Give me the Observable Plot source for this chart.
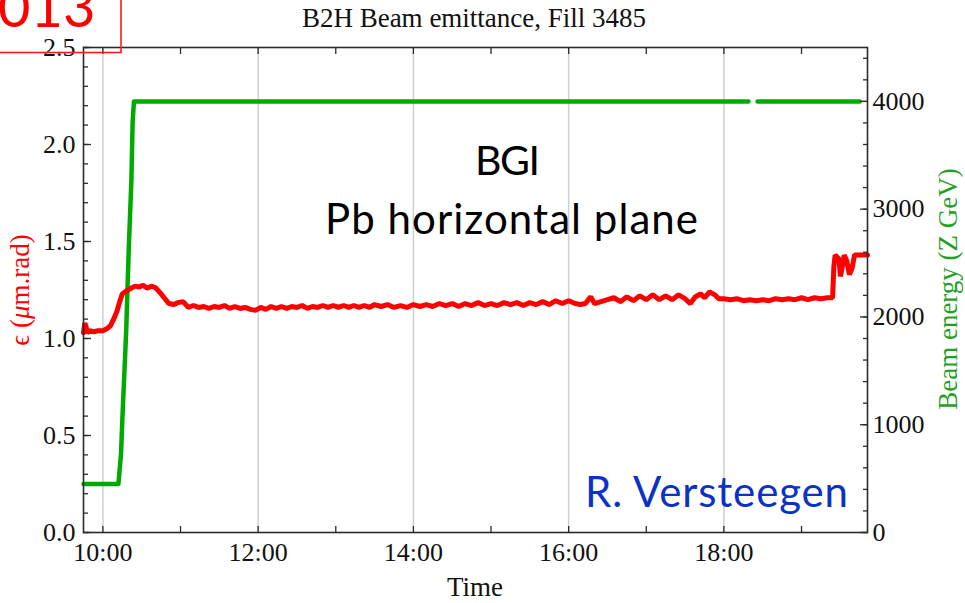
<!DOCTYPE html>
<html><head><meta charset="utf-8">
<script src="https://cdn.jsdelivr.net/npm/d3@7"></script>
<script src="https://cdn.jsdelivr.net/npm/@observablehq/plot@0.6"></script>
<style>
html,body{margin:0;padding:0;background:#fff;}
#chart{width:965px;height:603px;overflow:hidden;position:relative;}
</style></head><body><div id="chart"></div>
<script>
// ---- data ----
const emitTime = ["09:45","09:46","09:47","09:48","09:50","09:53","09:56","10:00","10:03","10:06","10:09","10:11","10:13","10:15","10:18","10:22","10:25","10:28","10:31","10:34","10:38","10:41","10:45","10:48","10:51","10:55","10:58","11:02","11:06","11:10","11:14","11:18","11:22","11:26","11:30","11:34","11:38","11:42","11:46","11:50","11:54","11:58","12:02","12:06","12:10","12:14","12:18","12:22","12:26","12:30","12:34","12:38","12:42","12:46","12:50","12:54","12:58","13:02","13:06","13:10","13:14","13:18","13:22","13:26","13:30","13:35","13:40","13:45","13:50","13:55","14:00","14:05","14:10","14:15","14:20","14:25","14:30","14:35","14:40","14:45","14:50","14:55","15:00","15:05","15:10","15:15","15:20","15:25","15:30","15:35","15:40","15:45","15:50","15:55","16:00","16:05","16:09","16:13","16:17","16:20","16:25","16:30","16:35","16:40","16:45","16:50","16:55","17:00","17:05","17:10","17:15","17:20","17:25","17:30","17:34","17:38","17:42","17:45","17:49","17:53","17:56","18:00","18:05","18:10","18:15","18:20","18:25","18:30","18:35","18:40","18:45","18:50","18:55","19:00","19:05","19:10","19:15","19:20","19:24","19:25","19:26","19:29","19:30","19:31","19:33","19:35","19:37","19:39","19:41","19:51"];
const emitValue = [1.03,1.08,1.06,1.03,1.04,1.035,1.04,1.04,1.05,1.067,1.11,1.144,1.19,1.23,1.245,1.26,1.27,1.265,1.275,1.26,1.27,1.26,1.23,1.205,1.18,1.175,1.185,1.19,1.16,1.17,1.16,1.165,1.155,1.165,1.16,1.17,1.155,1.165,1.155,1.16,1.15,1.145,1.16,1.15,1.165,1.155,1.165,1.155,1.165,1.16,1.17,1.155,1.165,1.16,1.17,1.16,1.17,1.16,1.17,1.16,1.17,1.16,1.17,1.16,1.175,1.165,1.175,1.16,1.17,1.16,1.175,1.165,1.175,1.165,1.18,1.17,1.18,1.165,1.18,1.17,1.185,1.17,1.18,1.17,1.185,1.175,1.185,1.17,1.185,1.175,1.19,1.175,1.195,1.18,1.195,1.18,1.175,1.18,1.215,1.18,1.19,1.2,1.21,1.19,1.215,1.195,1.22,1.2,1.225,1.2,1.22,1.2,1.225,1.205,1.18,1.215,1.23,1.21,1.24,1.225,1.205,1.205,1.2,1.205,1.195,1.2,1.195,1.2,1.195,1.205,1.2,1.205,1.2,1.21,1.2,1.21,1.205,1.21,1.21,1.37,1.43,1.41,1.32,1.35,1.43,1.40,1.33,1.36,1.43,1.43];

const energyTime  = ["09:45","10:12","10:14","10:15","10:18","10:20","10:22","10:23","10:24","18:19","18:22","18:26","19:45"];
const energyValue = [450,450,730,1040,1870,2640,3260,3820,4000,4000,null,4000,4000];

const leftTicks   = [0, 0.5, 1.0, 1.5, 2.0, 2.5];
const rightTicks  = [0, 1000, 2000, 3000, 4000];
const timeLabels  = ["10:00","12:00","14:00","16:00","18:00"];
const timeDomain  = ["09:45","19:51"];
const leftMax = 2.5, rightMax = 4500;

// ---- build ----
const parse = d3.utcParse("%H:%M");
const fmt = d3.utcFormat("%H:%M");
const K = leftMax / rightMax;
const emit = emitTime.map((t, i) => ({t: parse(t), v: emitValue[i]}));
const energy = energyTime.map((t, i) => ({t: parse(t), e: energyValue[i] == null ? NaN : energyValue[i] * K}));
const xDomain = timeDomain.map(parse);
const labelDates = timeLabels.map(parse);
const hourTicks = d3.utcHour.range(parse("10:00"), xDomain[1]);
const leftMinor = d3.range(0, 26).map(i => i / 10);
const rightMinor = d3.range(0, 23).map(i => i * 200 * K);
const rightMajor = rightTicks.map(v => v * K);

const serif = "'Liberation Serif', 'Times New Roman', serif";
const frameColor = "#2a2a2a";

const chart = Plot.plot({
  width: 965, height: 603,
  marginTop: 47, marginBottom: 71, marginLeft: 83, marginRight: 98,
  style: {fontFamily: serif, fontSize: "26px", color: "#111", background: "white", overflow: "visible"},
  x: {type: "utc", domain: xDomain},
  y: {domain: [0, leftMax]},
  marks: [
    Plot.gridX(labelDates, {stroke: "#cfcfcf", strokeOpacity: 1, strokeWidth: 1.5}),
    Plot.line(energy, {x: "t", y: "e", stroke: "#00aa00", strokeWidth: 4.5}),
    Plot.line(emit, {x: "t", y: "v", stroke: "#ff0000", strokeWidth: 5, strokeLinejoin: "miter"}),
    // tick marks (inward)
    Plot.axisX(hourTicks, {anchor: "bottom", tickSize: -6, fill: "none", stroke: frameColor, strokeWidth: 1.3, label: null}),
    Plot.axisX(hourTicks, {anchor: "top", tickSize: -6, fill: "none", stroke: frameColor, strokeWidth: 1.3, label: null}),
    Plot.axisY(leftMinor, {anchor: "left", tickSize: -5, fill: "none", stroke: frameColor, strokeWidth: 1.3, label: null}),
    Plot.axisY(leftTicks, {anchor: "left", tickSize: -8, fill: "none", stroke: frameColor, strokeWidth: 1.3, label: null}),
    Plot.axisY(rightMinor, {anchor: "right", tickSize: -5, fill: "none", stroke: frameColor, strokeWidth: 1.3, label: null}),
    Plot.axisY(rightMajor, {anchor: "right", tickSize: -8, fill: "none", stroke: frameColor, strokeWidth: 1.3, label: null}),
    // tick labels
    Plot.axisX(labelDates, {anchor: "bottom", tickSize: 0, tickPadding: 10, tickFormat: fmt, fill: "#111", label: null}),
    Plot.axisY(leftTicks, {anchor: "left", tickSize: 0, tickPadding: 8, tickFormat: d3.format(".1f"), fill: "#111", label: null}),
    Plot.axisY(rightMajor, {anchor: "right", tickSize: 0, tickPadding: 5, tickFormat: d => String(Math.round(d / K)), fill: "#111", label: null}),
    Plot.frame({stroke: frameColor, strokeWidth: 1.6})
  ]
});

document.getElementById("chart").appendChild(chart);

// ---- annotations ----
const svg = d3.select(chart);
const ann = svg.append("g");
ann.append("text").attr("x", 474).attr("y", 27).attr("text-anchor", "middle")
  .attr("font-family", serif).attr("font-size", 27).attr("fill", "#111")
  .text("B2H Beam emittance, Fill 3485");
ann.append("text").attr("x", 475).attr("y", 596).attr("text-anchor", "middle")
  .attr("font-family", serif).attr("font-size", 27).attr("fill", "#111")
  .text("Time");
const yl = ann.append("text").attr("transform", "translate(29,290) rotate(-90)").attr("text-anchor", "middle")
  .attr("font-family", serif).attr("font-size", 27).attr("fill", "#ff0000");
yl.append("tspan").text("ϵ (");
yl.append("tspan").attr("font-style", "italic").text("μ");
yl.append("tspan").text("m.rad)");
ann.append("text").attr("transform", "translate(957,289) rotate(-90)").attr("text-anchor", "middle")
  .attr("font-family", serif).attr("font-size", 27).attr("fill", "#1fa01f")
  .text("Beam energy (Z GeV)");

const sans = "Lato, 'Noto Sans', sans-serif";
ann.append("text").attr("x", 507.5).attr("y", 175).attr("text-anchor", "middle")
  .attr("font-family", sans).attr("font-size", 41).attr("fill", "#000")
  .attr("textLength", 65).text("BGI");
ann.append("text").attr("x", 511.5).attr("y", 234).attr("text-anchor", "middle")
  .attr("font-family", sans).attr("font-size", 42).attr("fill", "#000")
  .attr("textLength", 373).text("Pb horizontal plane");
ann.append("text").attr("x", 716.5).attr("y", 507).attr("text-anchor", "middle")
  .attr("font-family", sans).attr("font-size", 42).attr("fill", "#0a32c4")
  .attr("textLength", 263).text("R. Versteegen");

// red corner box
ann.append("rect").attr("x", -2).attr("y", -2).attr("width", 123).attr("height", 54.5)
  .attr("fill", "none").attr("stroke", "#ff1a1a").attr("stroke-width", 1.6);
ann.append("text").attr("x", -2).attr("y", 27).attr("text-anchor", "start")
  .attr("font-family", sans).attr("font-size", 56)
  .attr("fill", "#ff0000").text("013");
</script></body></html>
